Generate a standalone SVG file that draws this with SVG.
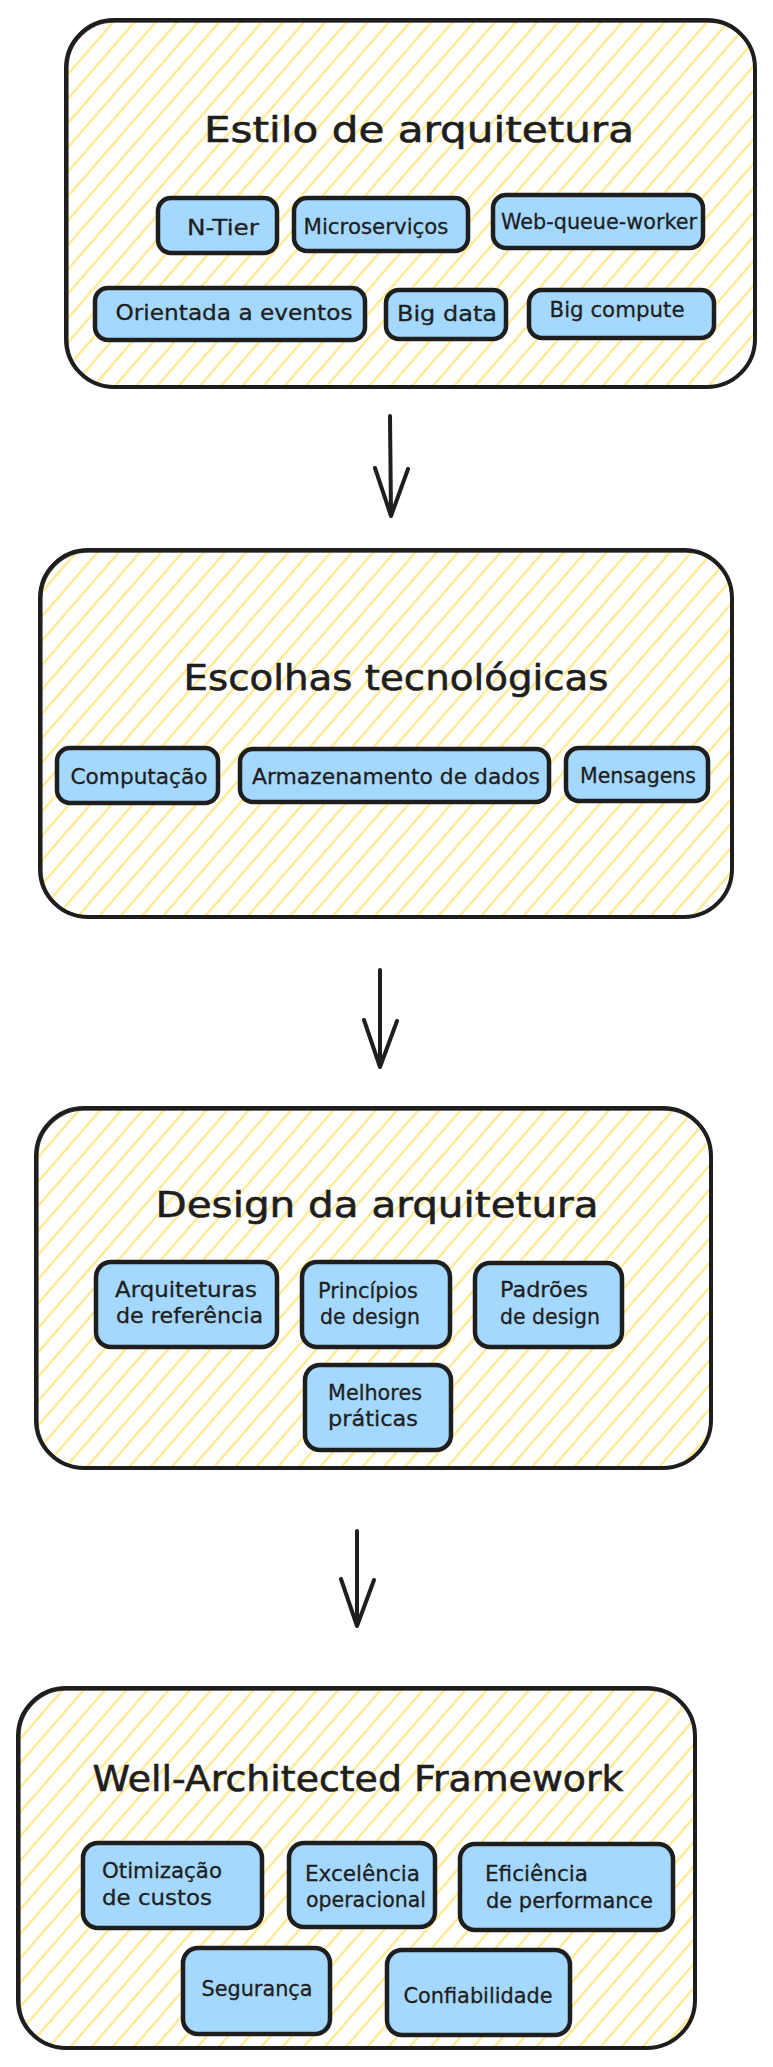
<svg xmlns="http://www.w3.org/2000/svg" width="773" height="2067" viewBox="0 0 773 2067">
<defs>
<pattern id="hatch" patternUnits="userSpaceOnUse" width="16" height="40" patternTransform="rotate(41)">
<line x1="4" y1="-2" x2="4" y2="42" stroke="#ffe98f" stroke-width="2.4"/>
</pattern>
</defs>
<style>
.cont{fill:url(#hatch);stroke:#1e1e1e;stroke-width:4}
.cont2{fill:none;stroke:#1e1e1e;stroke-width:1.3;opacity:.85}
.node{fill:#a5d8ff;stroke:#1e1e1e;stroke-width:4.5}
.title{font-family:"DejaVu Sans",sans-serif;font-size:36px;fill:#1e1e1e;stroke:#1e1e1e;stroke-width:0.6;text-anchor:middle;dominant-baseline:central}
.lbl{font-family:"DejaVu Sans",sans-serif;font-size:22px;fill:#1e1e1e;stroke:#1e1e1e;stroke-width:0.3;text-anchor:middle;dominant-baseline:central}
.ml{font-family:"DejaVu Sans",sans-serif;font-size:22px;fill:#1e1e1e;stroke:#1e1e1e;stroke-width:0.3;text-anchor:start}
.arr{fill:none;stroke:#1e1e1e;stroke-width:4;stroke-linecap:round;stroke-linejoin:round}
</style>
<rect width="773" height="2067" fill="#ffffff"/>

<g id="estilo">
<rect class="cont" x="66" y="20" width="689" height="367" rx="48"/>
<rect class="cont2" x="68" y="22" width="686" height="364" rx="46"/>
<text class="title" x="419" y="129" textLength="430" lengthAdjust="spacingAndGlyphs">Estilo de arquitetura</text>
</g>
<g id="ntier"><rect class="node" x="158" y="198" width="119" height="55" rx="13"/><text class="lbl" x="223" y="227" textLength="72" lengthAdjust="spacingAndGlyphs">N-Tier</text></g>
<g id="micro"><rect class="node" x="294" y="198" width="174" height="53" rx="13"/><text class="lbl" x="376" y="226" textLength="145" lengthAdjust="spacingAndGlyphs">Microserviços</text></g>
<g id="wqw"><rect class="node" x="493" y="195" width="210" height="53" rx="13"/><text class="lbl" x="599" y="221" textLength="196" lengthAdjust="spacingAndGlyphs">Web-queue-worker</text></g>
<g id="eventos"><rect class="node" x="95" y="288" width="270" height="52" rx="13"/><text class="lbl" x="234" y="312" textLength="237" lengthAdjust="spacingAndGlyphs">Orientada a eventos</text></g>
<g id="bigdata"><rect class="node" x="386" y="290" width="120" height="49" rx="13"/><text class="lbl" x="447" y="313" textLength="100" lengthAdjust="spacingAndGlyphs">Big data</text></g>
<g id="bigcompute"><rect class="node" x="529" y="290" width="185" height="48" rx="13"/><text class="lbl" x="617" y="309" textLength="135" lengthAdjust="spacingAndGlyphs">Big compute</text></g>

<g id="escolhas">
<rect class="cont" x="40" y="550" width="692" height="367" rx="48"/>
<rect class="cont2" x="42" y="552" width="689" height="364" rx="46"/>
<text class="title" x="396" y="677" textLength="425" lengthAdjust="spacingAndGlyphs">Escolhas tecnológicas</text>
</g>
<g id="comp"><rect class="node" x="57" y="748" width="161" height="55" rx="13"/><text class="lbl" x="139" y="776" textLength="137" lengthAdjust="spacingAndGlyphs">Computação</text></g>
<g id="armaz"><rect class="node" x="240" y="749" width="309" height="53" rx="13"/><text class="lbl" x="396" y="776" textLength="288" lengthAdjust="spacingAndGlyphs">Armazenamento de dados</text></g>
<g id="msg"><rect class="node" x="566" y="748" width="142" height="53" rx="13"/><text class="lbl" x="638" y="775" textLength="116" lengthAdjust="spacingAndGlyphs">Mensagens</text></g>

<g id="design">
<rect class="cont" x="36" y="1108" width="675" height="360" rx="48"/>
<rect class="cont2" x="38" y="1110" width="672" height="357" rx="46"/>
<text class="title" x="377" y="1204" textLength="443" lengthAdjust="spacingAndGlyphs">Design da arquitetura</text>
</g>
<g id="refarch"><rect class="node" x="96" y="1262" width="181" height="85" rx="15"/><text class="ml" x="115" y="1297" textLength="142" lengthAdjust="spacingAndGlyphs">Arquiteturas</text><text class="ml" x="116" y="1323" textLength="147" lengthAdjust="spacingAndGlyphs">de referência</text></g>
<g id="princ"><rect class="node" x="302" y="1262" width="148" height="85" rx="15"/><text class="ml" x="318" y="1298" textLength="100" lengthAdjust="spacingAndGlyphs">Princípios</text><text class="ml" x="320" y="1324" textLength="100" lengthAdjust="spacingAndGlyphs">de design</text></g>
<g id="padroes"><rect class="node" x="475" y="1263" width="147" height="84" rx="15"/><text class="ml" x="500" y="1297" textLength="88" lengthAdjust="spacingAndGlyphs">Padrões</text><text class="ml" x="500" y="1324" textLength="100" lengthAdjust="spacingAndGlyphs">de design</text></g>
<g id="melhores"><rect class="node" x="305" y="1365" width="146" height="85" rx="15"/><text class="ml" x="328" y="1400" textLength="94" lengthAdjust="spacingAndGlyphs">Melhores</text><text class="ml" x="328" y="1426" textLength="90" lengthAdjust="spacingAndGlyphs">práticas</text></g>

<g id="waf">
<rect class="cont" x="18" y="1688" width="677" height="360" rx="48"/>
<rect class="cont2" x="20" y="1690" width="674" height="357" rx="46"/>
<text class="title" x="358" y="1778" textLength="531" lengthAdjust="spacingAndGlyphs">Well-Architected Framework</text>
</g>
<g id="custos"><rect class="node" x="83" y="1843" width="179" height="85" rx="15"/><text class="ml" x="102" y="1878" textLength="120" lengthAdjust="spacingAndGlyphs">Otimização</text><text class="ml" x="102" y="1905" textLength="110" lengthAdjust="spacingAndGlyphs">de custos</text></g>
<g id="excel"><rect class="node" x="289" y="1843" width="146" height="84" rx="15"/><text class="ml" x="305" y="1881" textLength="115" lengthAdjust="spacingAndGlyphs">Excelência</text><text class="ml" x="306" y="1907" textLength="120" lengthAdjust="spacingAndGlyphs">operacional</text></g>
<g id="efic"><rect class="node" x="460" y="1844" width="213" height="86" rx="15"/><text class="ml" x="485" y="1881" textLength="103" lengthAdjust="spacingAndGlyphs">Eficiência</text><text class="ml" x="486" y="1908" textLength="167" lengthAdjust="spacingAndGlyphs">de performance</text></g>
<g id="seg"><rect class="node" x="183" y="1948" width="147" height="86" rx="15"/><text class="lbl" x="257" y="1988" textLength="111" lengthAdjust="spacingAndGlyphs">Segurança</text></g>
<g id="conf"><rect class="node" x="387" y="1950" width="183" height="85" rx="15"/><text class="lbl" x="478" y="1995" textLength="149" lengthAdjust="spacingAndGlyphs">Confiabilidade</text></g>

<g id="connectors">
<path class="arr" d="M390 416 L391 515 M375 468 L391 516 L408 469"/>
<path class="arr" d="M380 970 L380 1066 M364 1020 L380 1067 L397 1021"/>
<path class="arr" d="M357 1531 L357 1625 M341 1579 L357 1626 L374 1580"/>
</g>
</svg>
